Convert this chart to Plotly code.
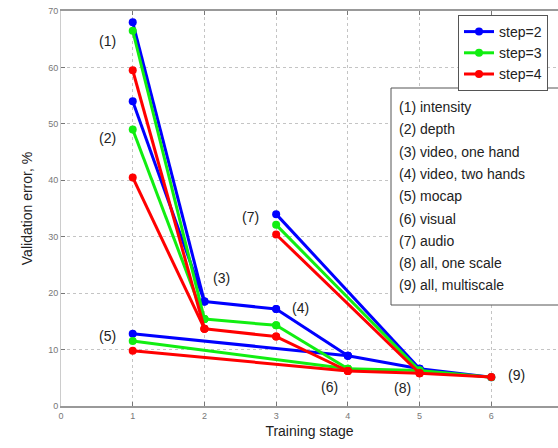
import plotly.graph_objects as go

# ---------------- data ----------------
steps = ["step=2", "step=3", "step=4"]
colors = ["#0000ff", "#11ee11", "#ff0000"]

# validation error (%) for each step setting (blue, green, red)
intensity = [68.0, 66.5, 59.5]
depth = [54.0, 49.0, 40.5]
mocap = [12.8, 11.5, 9.8]
video_one_hand = [18.5, 15.4, 13.7]
video_two_hands = [17.2, 14.3, 12.3]
audio = [34.0, 32.1, 30.4]
visual = [8.9, 6.6, 6.2]
all_one_scale = [6.6, 6.3, 5.8]
all_multiscale = [5.1, 5.1, 5.15]

modality_names = ["intensity", "depth", "video, one hand", "video, two hands",
                  "mocap", "visual", "audio", "all, one scale", "all, multiscale"]
x_ticks = [0, 1, 2, 3, 4, 5, 6]
y_ticks = [0, 10, 20, 30, 40, 50, 60, 70]

# training stage of each modality
stage = {
    "intensity": 1, "depth": 1, "mocap": 1,
    "video_one_hand": 2, "video_two_hands": 3, "audio": 3,
    "visual": 4, "all_one_scale": 5, "all_multiscale": 6,
}
values = {
    "intensity": intensity, "depth": depth, "mocap": mocap,
    "video_one_hand": video_one_hand, "video_two_hands": video_two_hands,
    "audio": audio, "visual": visual, "all_one_scale": all_one_scale,
    "all_multiscale": all_multiscale,
}
# fusion graph: (source, destination)
edges = [
    ("intensity", "video_one_hand"),
    ("depth", "video_one_hand"),
    ("video_one_hand", "video_two_hands"),
    ("video_two_hands", "visual"),
    ("mocap", "visual"),
    ("visual", "all_one_scale"),
    ("audio", "all_one_scale"),
    ("all_one_scale", "all_multiscale"),
]

fig = go.Figure()
for i, (name, col) in enumerate(zip(steps, colors)):
    xs, ys = [], []
    for a, b in edges:
        xs += [stage[a], stage[b], None]
        ys += [values[a][i], values[b][i], None]
    fig.add_trace(go.Scatter(
        x=xs, y=ys, mode="lines+markers", name=name,
        line=dict(color=col, width=3),
        marker=dict(color=col, size=8),
    ))

# ---------------- layout geometry ----------------
W, H = 558, 448
L, R, T, B = 61, 0, 11, 42
XMAX = 6.93
plot_w = W - L - R
plot_h = H - T - B


def px_to_x(px):
    return (px - L) / plot_w * XMAX


def py_to_y(py):
    return (H - B - py) / plot_h * 70


label_font = dict(family="Liberation Sans, Arial, sans-serif", size=14, color="#222222")

# numbered labels beside the curves
label_pos = [(107, 41), (107, 138), (221, 278), (300, 308), (107, 336),
             (329, 387), (250, 217), (402, 388), (516, 375)]
for k, (px, py) in enumerate(label_pos):
    fig.add_annotation(x=px_to_x(px), y=py_to_y(py), xref="x", yref="y",
                       text="(%d)" % (k + 1), showarrow=False, font=label_font)

# box listing the modalities
fig.add_shape(type="rect", xref="x", yref="y",
              x0=px_to_x(391), x1=px_to_x(W + 5), y0=py_to_y(305), y1=py_to_y(88),
              line=dict(color="#555555", width=1), fillcolor="white", layer="above")
for k, nm in enumerate(modality_names):
    fig.add_annotation(x=px_to_x(397), y=py_to_y(107 + k * 22.3), xref="x", yref="y",
                       xanchor="left", yanchor="middle",
                       text="(%d) %s" % (k + 1, nm), showarrow=False, font=label_font)

tick_font = dict(family="Liberation Sans, Arial, sans-serif", size=9, color="#777777")
title_font = dict(family="Liberation Sans, Arial, sans-serif", size=14, color="#222222")

fig.update_layout(
    width=W, height=H,
    margin=dict(l=L, r=R, t=T, b=B, pad=0, autoexpand=False),
    paper_bgcolor="white", plot_bgcolor="white",
    showlegend=True,
    legend=dict(x=(458 - L) / plot_w, y=(H - B - 15) / plot_h, xanchor="left", yanchor="top",
                bgcolor="white", bordercolor="#555555", borderwidth=1,
                font=dict(family="Liberation Sans, Arial, sans-serif", size=14, color="#222222"),
                tracegroupgap=0, itemwidth=30),
    xaxis=dict(range=[0, XMAX], tickvals=x_ticks, ticktext=[str(v) for v in x_ticks],
               automargin=False,
               showgrid=True, gridcolor="#c4c4c4", griddash="dot", gridwidth=1,
               zeroline=False, showline=True, linecolor="#999999", linewidth=2,
               mirror="allticks", ticks="inside", ticklen=4, tickcolor="#777777",
               tickfont=tick_font,
               title=dict(text="Training stage", font=title_font, standoff=6)),
    yaxis=dict(range=[0, 70], tickvals=y_ticks, ticktext=[str(v) for v in y_ticks],
               automargin=False,
               showgrid=True, gridcolor="#c4c4c4", griddash="dot", gridwidth=1,
               zeroline=False, showline=True, linecolor="#cccccc", linewidth=1,
               ticks="inside", ticklen=4, tickcolor="#777777",
               tickfont=tick_font,
               title=dict(text="Validation error, %", font=title_font, standoff=12)),
)

fig.write_html("out.html", config={"displayModeBar": False},
               post_script="document.body.style.margin='0';document.body.style.overflow='hidden';")
